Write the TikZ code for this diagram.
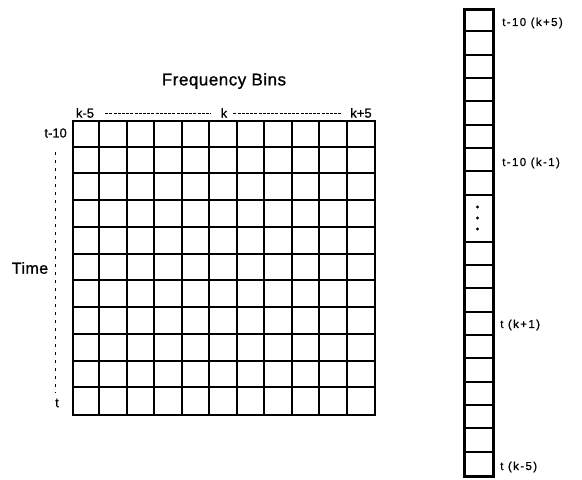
\documentclass[tikz,border=0pt]{standalone}
\usepackage{fontspec}
\setmainfont{Liberation Sans}[FakeBold=0.7]
\newfontfamily\spacedfont[LetterSpace=12,FakeBold=0.8]{Liberation Sans}
\newfontfamily\titlefont[LetterSpace=3,FakeBold=1]{Liberation Sans}
\tikzset{
  gridline/.style={line width=2pt, black},
  stripline/.style={line width=2pt, black},
  lab/.style={inner sep=0pt, font=\fontsize{13}{13}\selectfont},
  slab/.style={inner sep=0pt, anchor=west, font=\spacedfont\fontsize{11.5}{11.5}\selectfont},
  hdash/.style={line width=0.6pt, dash pattern=on 3pt off 1.2pt},
  vdash/.style={line width=0.7pt, dash pattern=on 3pt off 5pt}
}
\begin{document}
\begin{tikzpicture}[x=1pt,y=-1pt]
\useasboundingbox (0,0) rectangle (582,480);
% main grid
\node[draw, line width=2pt, minimum width=302pt, minimum height=294pt, inner sep=0pt, anchor=north west] (grid) at (72,120) {};
\foreach \i in {1,...,10} {
  \pgfmathsetmacro{\gxx}{72+round(\i*302/11)}
  \pgfmathsetmacro{\gyy}{120+round(\i*294/11)}
  \draw[gridline] (\gxx,120) -- (\gxx,414);
  \draw[gridline] (72,\gyy) -- (374,\gyy);
}
% title and column labels
\node[inner sep=0pt, font=\titlefont\fontsize{17}{17}\selectfont] (title) at (224,81) {Frequency Bins};
\node[lab] (km5) at (85,113) {k-5};
\node[lab] (k) at (224,113) {k};
\node[lab] (kp5) at (361,113) {k+5};
\draw[hdash, shorten <=11pt, shorten >=10pt] (km5.east) -- (k.west);
\draw[hdash, shorten <=6pt, shorten >=9pt] (k.east) -- (kp5.west);
% row labels
\node[lab, anchor=east] (t10) at (67,133) {t-10};
\node[lab] (t0) at (57,403) {t};
\node[inner sep=0pt, font=\titlefont\fontsize{16}{16}\selectfont] (time) at (30,268) {Time};
\coordinate (vtop) at (55,152);
\coordinate (vbot) at (55,393);
\draw[vdash] (vtop) -- (vbot);
% strip
\node[draw, line width=3pt, minimum width=29pt, minimum height=467pt, inner sep=0pt, anchor=north west] (strip) at (463,8) {};
\foreach \i in {1,...,8} {
  \pgfmathsetmacro{\syy}{8+round(\i*23.35)}
  \draw[stripline] (463,\syy) -- (492,\syy);
}
\foreach \i in {10,...,19} {
  \pgfmathsetmacro{\syy}{8+round(\i*23.35)}
  \draw[stripline] (463,\syy) -- (492,\syy);
}
\fill (477.5,207) circle (1.7pt);
\fill (477.5,218) circle (1.7pt);
\fill (477.5,229) circle (1.7pt);
% strip labels
\node[slab] (l1) at (502,23) {t-10 (k+5)};
\node[slab] (l2) at (502,163) {t-10 (k-1)};
\node[slab] (l3) at (500,325) {t (k+1)};
\node[slab] (l4) at (500,467) {t (k-5)};
\end{tikzpicture}
\end{document}
